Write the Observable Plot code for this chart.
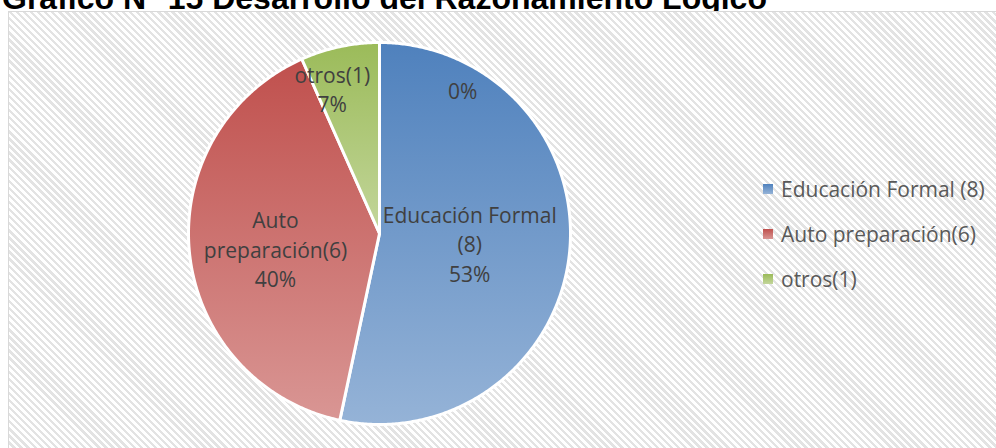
<!DOCTYPE html>
<html>
<head>
<meta charset="utf-8">
<script src="https://cdn.jsdelivr.net/npm/d3@7"></script>
<script src="https://cdn.jsdelivr.net/npm/@observablehq/plot@0.6"></script>
<style>
  html, body { margin: 0; padding: 0; background: #fff; }
  #wrap { position: relative; width: 996px; height: 448px; overflow: hidden; background: #fff; }
  #title { position: absolute; left: 2px; top: -20px; font: bold 32px "Liberation Sans", Arial, sans-serif; color: #000; white-space: nowrap; line-height: 36px; }
  #area { position: absolute; left: 8px; top: 11px; width: 1000px; height: 450px;
          border-top: 1px solid #d9d9d9; border-left: 1px solid #d9d9d9;
          background: repeating-linear-gradient(45deg, #ffffff 0 2.6px, #e3e3e3 2.6px 5px); }
  #chart { position: absolute; left: 8px; top: 11px; }
  #legend { position: absolute; left: 763px; top: 174px; font: 21px "Open Sans", sans-serif; color: #595959; }
  .row { position: absolute; left: 0; white-space: nowrap; height: 30px; line-height: 30px; }
  .sw { position: absolute; left: 0; top: 10px; width: 10px; height: 10px; }
  .lt { position: absolute; left: 18px; top: 0; }
</style>
</head>
<body>
<div id="wrap">
  <div id="title">Gráfico N° 15 Desarrollo del Razonamiento Lógico</div>
  <div id="area"></div>
  <div id="chart"></div>
  <div id="legend"></div>
</div>
<script>
// ---- data ----
const categories = ["Educación Formal", "Auto preparación", "otros", "(vacío)"];
const values = [8, 6, 1, 0];
const sliceLabels = ["Educación Formal\n(8)", "Auto\npreparación(6)", "otros(1)", ""];
const legendLabels = ["Educación Formal (8)", "Auto preparación(6)", "otros(1)"];

// ---- styling / layout ----
const gradients = [
  ["#4F81BD", "#95B3D7"],
  ["#C0504D", "#D99694"],
  ["#9BBB59", "#C3D69B"],
  ["#8064A2", "#B3A2C7"]
];
// label placement: radius fraction, optional angle override (degrees, clockwise from top)
const labelPlacement = [
  {r: 0.475},
  {r: 0.55, da: -2},
  {r: 0.80, da: -6},
  {r: 0.87, angle: 30}
];

const total = d3.sum(values);
const pie = d3.pie().sort(null).value(d => d)(values);

// arc outlines in unit coordinates (angle clockwise from top)
function outline(a0, a1) {
  const pts = [[0, 0]];
  const n = Math.max(2, Math.ceil((a1 - a0) / (Math.PI / 360)));
  for (let i = 0; i <= n; i++) {
    const a = a0 + (a1 - a0) * i / n;
    pts.push([Math.sin(a), Math.cos(a)]);
  }
  pts.push([0, 0]);
  return pts;
}

const sliceMarks = pie.filter(p => p.value > 0).map(p =>
  Plot.line(outline(p.startAngle, p.endAngle), {
    x: d => d[0], y: d => d[1],
    fill: `url(#grad${p.index})`,
    stroke: "#ffffff", strokeWidth: 3, strokeLinejoin: "round"
  })
);

const pctFmt = d3.format(".0%");
const labelData = pie.map((p, i) => {
  const pl = labelPlacement[i];
  const mid = pl.angle != null ? pl.angle * Math.PI / 180 : (p.startAngle + p.endAngle) / 2 + (pl.da || 0) * Math.PI / 180;
  return {
    x: pl.r * Math.sin(mid), y: pl.r * Math.cos(mid),
    text: (sliceLabels[i] ? sliceLabels[i] + "\n" : "") + pctFmt(values[i] / total)
  };
});

const cx = 371, cy = 222, R = 191;
const chart = Plot.plot({
  width: 988, height: 437,
  margin: 0,
  style: {background: "transparent", overflow: "visible"},
  x: {domain: [-1, 1], range: [cx - R, cx + R], axis: null},
  y: {domain: [-1, 1], range: [cy + R, cy - R], axis: null},
  marks: [
    ...sliceMarks,
    Plot.text(labelData, {x: "x", y: "y", text: "text", fontSize: 21, fontFamily: "Open Sans", fill: "#404040", lineHeight: 1.41})
  ]
});

// gradient definitions
const svg = d3.select(chart.tagName.toLowerCase() === "svg" ? chart : chart.querySelector("svg"));
const defs = svg.insert("defs", ":first-child");
gradients.forEach((g, i) => {
  const lg = defs.append("linearGradient").attr("id", `grad${i}`).attr("x1", 0).attr("y1", 0).attr("x2", 0).attr("y2", 1);
  lg.append("stop").attr("offset", "0%").attr("stop-color", g[0]);
  lg.append("stop").attr("offset", "100%").attr("stop-color", g[1]);
});
document.getElementById("chart").appendChild(chart);

// legend
const legend = d3.select("#legend");
legendLabels.forEach((t, i) => {
  const row = legend.append("div").attr("class", "row").style("top", `${i * 45}px`);
  row.append("div").attr("class", "sw").style("background", `linear-gradient(${gradients[i][0]}, ${gradients[i][1]})`);
  row.append("span").attr("class", "lt").text(t);
});
</script>
</body>
</html>
